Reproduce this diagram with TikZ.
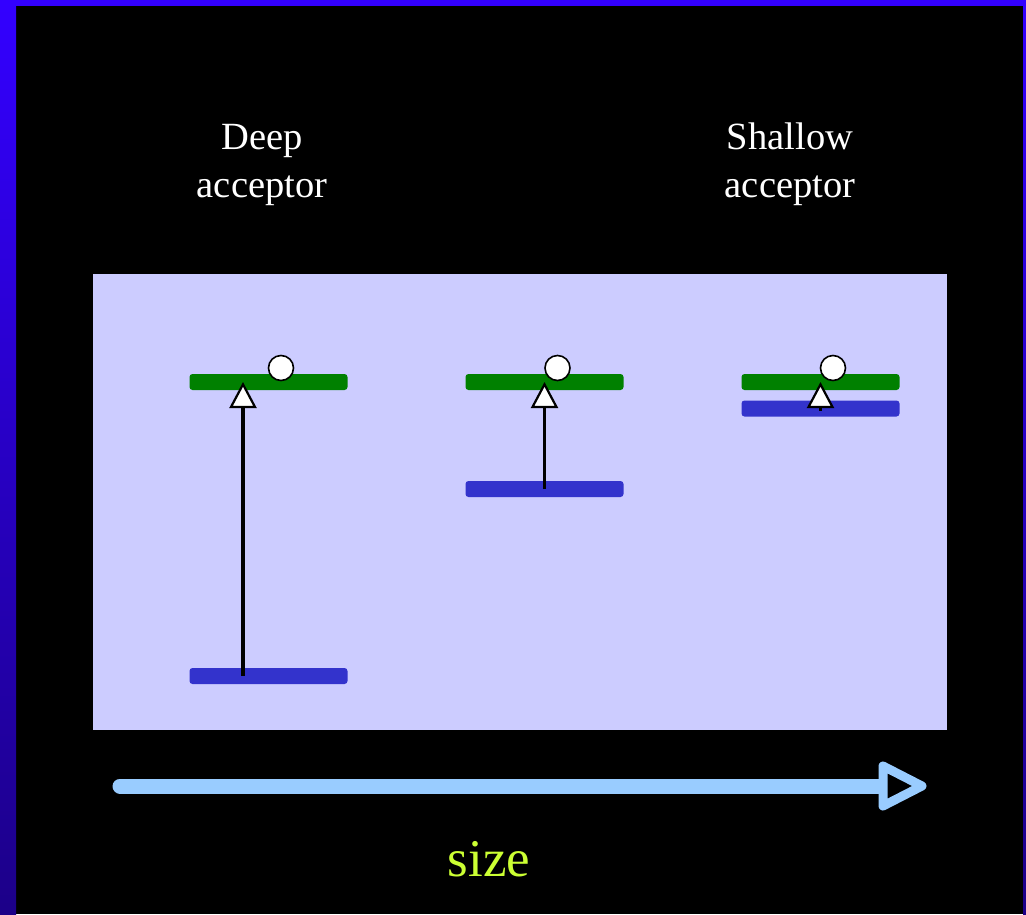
\documentclass[tikz,border=0pt]{standalone}
\usepackage{fontspec}
\setmainfont{Liberation Serif}
\usetikzlibrary{arrows.meta,calc}
\definecolor{frametop}{HTML}{3300FF}
\definecolor{framebot}{HTML}{1C0088}
\definecolor{panel}{HTML}{CCCCFF}
\definecolor{bargreen}{HTML}{008000}
\definecolor{barblue}{HTML}{3333CC}
\definecolor{sizearrow}{HTML}{99CCFF}
\definecolor{sizetext}{HTML}{CCFF33}
\tikzset{
  gbar/.style={rectangle, rounded corners=3pt, minimum width=158pt, minimum height=16pt, inner sep=0pt, fill=bargreen},
  bbar/.style={rectangle, rounded corners=3pt, minimum width=158pt, minimum height=16pt, inner sep=0pt, fill=barblue},
  hole/.style={circle, minimum size=25pt, inner sep=0pt, draw=black, line width=1.6pt, fill=white},
  smallarrow/.style={draw=black, line width=3.2pt, -{Triangle[open, fill=white, length=26pt, width=27pt, line width=2.2pt]}},
  label/.style={text=white, align=center, inner sep=0pt, font=\fontsize{38.5}{48}\selectfont},
  bigarrow/.style={draw=sizearrow, line width=15pt, line cap=round, line join=round}
}
\begin{document}
\begin{tikzpicture}[x=1pt,y=-1pt]
\useasboundingbox (0,0) rectangle (1026,914);
\fill[black] (0,0) rectangle (1026,914);
\shade[top color=frametop, bottom color=framebot] (0,0) rectangle (16,914);
\shade[top color=frametop, bottom color=framebot] (1023,0) rectangle (1026,914);
\fill[frametop] (0,0) rectangle (1026,6);
\fill[panel] (93,274) rectangle (947,730);

\node[label, anchor=north] (deep) at (262,124) {Deep\\acceptor};
\node[label, anchor=north] (shallow) at (790,123) {Shallow\\acceptor};

% levels
\node[gbar] (g1) at (268.5,382) {};
\node[bbar] (b1) at (268.5,676) {};
\node[gbar] (g2) at (544.5,382) {};
\node[bbar] (b2) at (544.5,489) {};
\node[gbar] (g3) at (820.5,382) {};
\node[bbar] (b3) at (820.5,408.5) {};

% transitions
\draw[smallarrow] ($(b1.center)+(-25.5,0)$) -- ($(g1.center)+(-25.5,0)$);
\draw[smallarrow] (b2.center) -- (g2.center);
\draw[smallarrow] ($(b3.center)+(0,2)$) -- (g3.center);

% holes
\node[hole] (h1) at (281,368) {};
\node[hole] (h2) at (557.5,368) {};
\node[hole] (h3) at (833,368) {};

% size arrow
\coordinate (s0) at (120,786);
\coordinate (s1) at (883,786);
\coordinate (sa) at (883,766);
\coordinate (sb) at (922,786);
\coordinate (sc) at (883,806);
\draw[bigarrow] (s0) -- (s1);
\draw[draw=sizearrow, line width=9pt, line join=round, fill=black] (sa) -- (sb) -- (sc) -- cycle;

\node[text=sizetext, anchor=base, inner sep=0pt, font=\fontsize{53}{60}\selectfont] (size) at (489,876) {size};
\end{tikzpicture}
\end{document}
